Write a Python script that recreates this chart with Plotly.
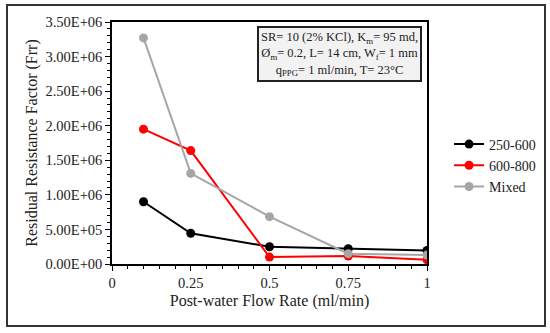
import plotly.graph_objects as go

flow = [0.1, 0.25, 0.5, 0.75, 1.0]
frr_250_600 = [9.0e5, 4.45e5, 2.5e5, 2.2e5, 1.95e5]
frr_600_800 = [1.95e6, 1.64e6, 1.0e5, 1.15e5, 6.0e4]
frr_mixed = [3.27e6, 1.31e6, 6.85e5, 1.5e5, 1.3e5]
series_names = ["250-600", "600-800", "Mixed"]
colors = ["#000000", "#ff0000", "#a6a6a6"]

y_tickvals = [0, 5e5, 1e6, 1.5e6, 2e6, 2.5e6, 3e6, 3.5e6]
y_ticktext = ["0.00E+00", "5.00E+05", "1.00E+06", "1.50E+06", "2.00E+06", "2.50E+06", "3.00E+06", "3.50E+06"]
x_tickvals = [0, 0.25, 0.5, 0.75, 1]
x_ticktext = ["0", "0.25", "0.5", "0.75", "1"]

FONT = "Liberation Serif"

fig = go.Figure()
for name, ys, c in zip(series_names, [frr_250_600, frr_600_800, frr_mixed], colors):
    fig.add_trace(go.Scatter(x=flow, y=ys, mode="lines+markers", name=name,
                             line=dict(color=c, width=2),
                             marker=dict(color=c, size=9)))

fig.update_layout(
    width=550, height=333,
    margin=dict(l=112, r=123, t=22, b=69, autoexpand=False),
    paper_bgcolor="white", plot_bgcolor="white",
    font=dict(family=FONT, size=14, color="#222"),
    showlegend=True,
    legend=dict(x=1.07, y=0.56, xanchor="left", yanchor="top",
                font=dict(family=FONT, size=14, color="#222"),
                tracegroupgap=4, itemwidth=30, bgcolor="rgba(0,0,0,0)"),
    xaxis=dict(range=[0, 1], tickvals=x_tickvals, ticktext=x_ticktext,
               automargin=False,
               showgrid=False, zeroline=False, showline=True, linecolor="black",
               linewidth=1.5, mirror=True, ticks="outside", ticklen=5,
               tickcolor="black",
               minor=dict(dtick=0.05, ticks="outside", ticklen=3, tickcolor="black"),
               title=dict(text="Post-water Flow Rate (ml/min)",
                          font=dict(family=FONT, size=16, color="#222"), standoff=5),
               tickfont=dict(family=FONT, size=14.5, color="#222")),
    yaxis=dict(range=[0, 3.5e6], tickvals=y_tickvals, ticktext=y_ticktext,
               automargin=False,
               showgrid=False, zeroline=False, showline=True, linecolor="black",
               linewidth=1.5, mirror=True, ticks="outside", ticklen=5,
               tickcolor="black",
               minor=dict(dtick=1e5, ticks="outside", ticklen=3, tickcolor="black"),
               title=dict(text="Residual Resistance Factor (Frr)",
                          font=dict(family=FONT, size=16, color="#222"), standoff=4),
               tickfont=dict(family=FONT, size=14.5, color="#222")),
)

fig.add_annotation(
    xref="paper", yref="paper", x=0.985, y=0.985, xanchor="right", yanchor="top",
    text="SR= 10 (2% KCl), K<sub>m</sub>= 95 md,<br>Ø<sub>m</sub>= 0.2, L= 14 cm, W<sub>f</sub>= 1 mm<br>q<sub>PPG</sub>= 1 ml/min, T= 23°C",
    showarrow=False, align="center",
    font=dict(family=FONT, size=12.5, color="#222"),
    bgcolor="#f2f2f2", bordercolor="#222", borderwidth=2, borderpad=2,
)

# outer frame around the figure
fig.add_shape(type="rect", xref="paper", yref="paper",
              x0=(7 - 112) / 315, x1=(545 - 112) / 315,
              y0=(264 - 326) / 242, y1=(264 - 5) / 242,
              line=dict(color="#333", width=2), fillcolor="rgba(0,0,0,0)", layer="below")

fig.write_html("out.html", config={"displayModeBar": False},
               post_script="document.body.style.margin='0';")
